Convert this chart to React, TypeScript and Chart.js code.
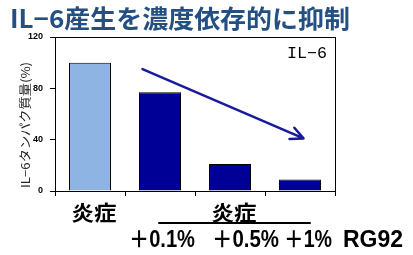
import React, { useEffect, useRef } from "react";
import { Chart, registerables } from "chart.js";

Chart.register(...registerables);

const chartTitle = "IL−6産生を濃度依存的に抑制";
const panelLabel = "IL−6";
const yAxisTitle = "IL−6タンパク質量(%)";
const categories = ["炎症", "＋0.1%", "＋0.5%", "＋1%"];
const groupLabel = "炎症";
const drugLabel = "RG92";
const values = [100, 77, 21, 9];
const barColors = ["#8DB4E2", "#000096", "#000096", "#000096"];
const yTicks = [0, 40, 80, 120];
// arrow endpoints in data space: [category index, value]
const arrowFrom = [0.75, 95];
const arrowTo = [3.05, 41];

const fitText = (ctx: CanvasRenderingContext2D, text: string, x: number, y: number, width: number | null, font: string, color: string, align: CanvasTextAlign = "left") => {
  ctx.save();
  ctx.font = font;
  ctx.fillStyle = color;
  ctx.textBaseline = "middle";
  ctx.textAlign = align;
  const w = ctx.measureText(text).width;
  const s = width ? width / w : 1;
  ctx.translate(x, y);
  ctx.scale(s, 1);
  ctx.fillText(text, 0, 0);
  ctx.restore();
};

const overlay = {
  id: "overlay",
  afterDraw(chart: any) {
    const { ctx, chartArea: a, scales } = chart;
    const xs = scales.x;
    const ys = scales.y;
    ctx.save();
    // box
    ctx.strokeStyle = "#000";
    ctx.lineWidth = 1;
    ctx.strokeRect(Math.round(a.left) + 0.5, Math.round(a.top) + 0.5, Math.round(a.right - a.left), Math.round(a.bottom - a.top));

    // title
    fitText(ctx, chartTitle, 10, 18, 340, "bold 25px 'Noto Sans CJK JP', sans-serif", "#234f82");
    // panel label
    fitText(ctx, panelLabel, a.right - 8, a.top + 17, 40, "16px 'Liberation Mono', monospace", "#000", "right");
    // y-axis title
    ctx.save();
    ctx.translate(25, 125);
    ctx.rotate(-Math.PI / 2);
    fitText(ctx, yAxisTitle, 0, 0, 126, "12px 'Noto Sans CJK JP', sans-serif", "#222", "center");
    ctx.restore();

    // arrow
    const x1 = xs.getPixelForValue(arrowFrom[0]);
    const y1 = ys.getPixelForValue(arrowFrom[1]);
    const x2 = xs.getPixelForValue(arrowTo[0]);
    const y2 = ys.getPixelForValue(arrowTo[1]);
    ctx.strokeStyle = "#1a1a9e";
    ctx.lineWidth = 2.5;
    ctx.lineCap = "round";
    ctx.beginPath();
    ctx.moveTo(x1, y1);
    ctx.lineTo(x2, y2);
    const ang = Math.atan2(y2 - y1, x2 - x1);
    const hl = 14;
    for (const d of [0.45, -0.45]) {
      ctx.moveTo(x2, y2);
      ctx.lineTo(x2 - hl * Math.cos(ang + d), y2 - hl * Math.sin(ang + d));
    }
    ctx.stroke();

    // bottom labels
    const cjkFont = "bold 21px 'Noto Sans CJK JP', sans-serif";
    const font = "bold 23px 'Liberation Sans', 'Noto Sans CJK JP', sans-serif";
    const c0 = xs.getPixelForValue(0);
    fitText(ctx, categories[0], c0 + 4, 212, 45, cjkFont, "#000", "center");
    const c1 = xs.getPixelForValue(1);
    const c3 = xs.getPixelForValue(3);
    fitText(ctx, groupLabel, (c1 + c3) / 2 + 4, 212, 45, cjkFont, "#000", "center");
    ctx.strokeStyle = "#000";
    ctx.lineWidth = 2;
    ctx.beginPath();
    ctx.moveTo(c1 - 1, 223);
    ctx.lineTo(c3 + 10, 223);
    ctx.stroke();
    const shifts = [0, -31, -18, -16];
    const widths = [0, 66, 67, 48];
    for (let i = 1; i < categories.length; i++) {
      fitText(ctx, categories[i], xs.getPixelForValue(i) + shifts[i], 241, widths[i], font, "#000", "left");
    }
    fitText(ctx, drugLabel, a.right + 8, 241, 60, font, "#000", "left");
    ctx.restore();
  },
};

export default function App() {
  const ref = useRef<HTMLCanvasElement | null>(null);
  useEffect(() => {
    if (!ref.current) return;
    const chart = new Chart(ref.current, {
      type: "bar",
      data: {
        labels: categories,
        datasets: [
          {
            data: values,
            backgroundColor: barColors,
            borderColor: "#000",
            borderWidth: 1,
            barPercentage: 0.6,
            categoryPercentage: 1,
          },
        ],
      },
      options: {
        animation: false,
        responsive: false,
        maintainAspectRatio: false,
        events: [],
        layout: { padding: { top: 37, right: 78, left: 0, bottom: 0 } },
        plugins: { legend: { display: false }, tooltip: { enabled: false }, title: { display: false } },
        scales: {
          x: {
            grid: { offset: true, drawOnChartArea: false, tickLength: 5, color: "#000" },
            border: { color: "#000", width: 1 },
            ticks: { display: false },
            afterFit: (s: any) => { s.height = 64; },
          },
          y: {
            min: 0,
            max: 120,
            afterBuildTicks: (s: any) => { s.ticks = yTicks.map((v) => ({ value: v })); },
            grid: { drawOnChartArea: false, tickLength: 5, color: "#000" },
            border: { color: "#000", width: 1 },
            ticks: { font: { family: "'Liberation Sans', Arial", size: 9, weight: "bold" }, color: "#000", padding: 7 },
            afterFit: (s: any) => { s.width = 55; },
          },
        },
      },
      plugins: [overlay],
    });
    return () => chart.destroy();
  }, []);
  return (
    <div style={{ position: "fixed", left: 0, top: 0, width: 413, height: 255, background: "#fff" }}>
      <canvas ref={ref} width={413} height={255} style={{ width: 413, height: 255, display: "block" }} />
    </div>
  );
}
